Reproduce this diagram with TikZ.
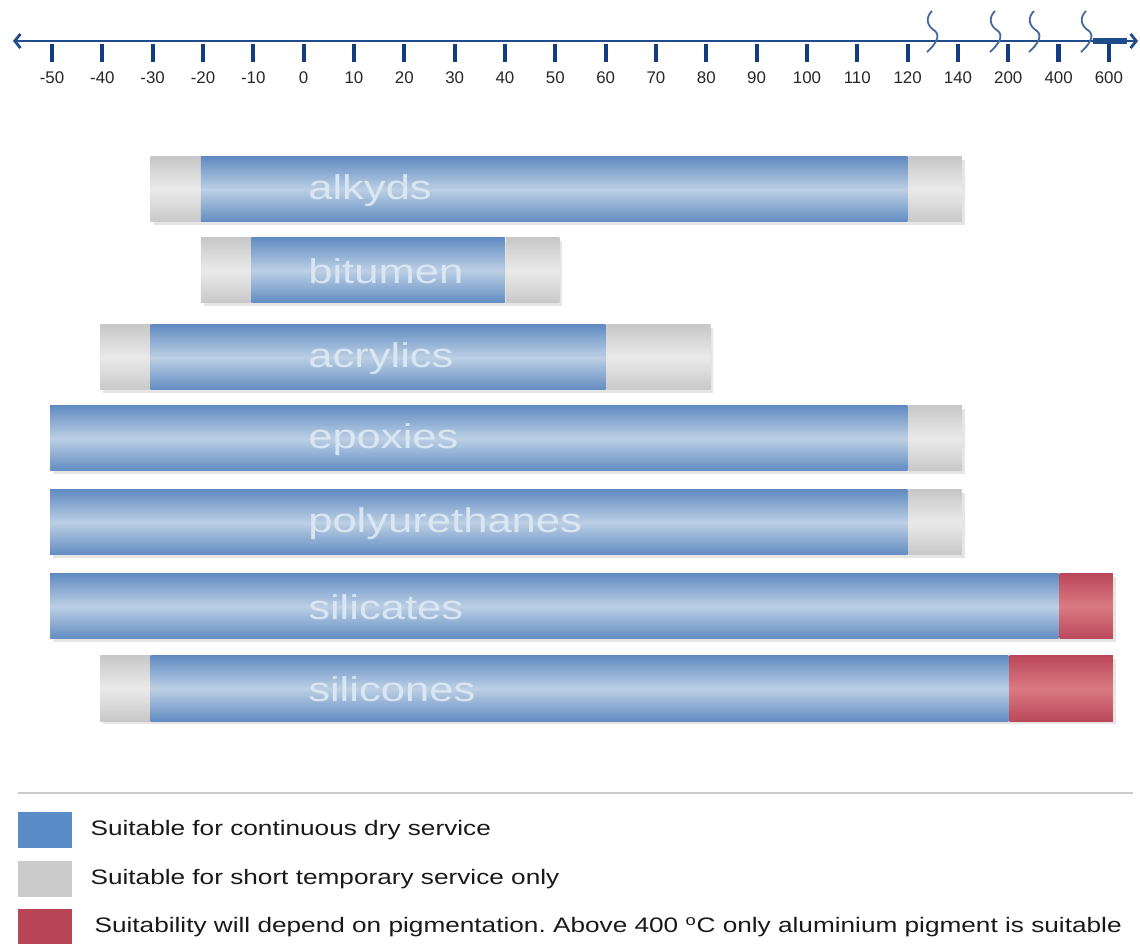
\documentclass[tikz,border=0pt]{standalone}
\usepackage{fontspec}
\setmainfont{Liberation Sans}
\newfontfamily\widefont{Liberation Sans}[FakeStretch=1.25]
\newfontfamily\barfont{Liberation Sans}[FakeStretch=1.27]
\usepackage{tikz}
\usetikzlibrary{arrows.meta,positioning}
\usepackage{xcolor}
\frenchspacing

\definecolor{axisblue}{RGB}{33,76,140}
\definecolor{tickblue}{RGB}{20,60,128}
\definecolor{breakblue}{RGB}{70,105,160}
\definecolor{blueedge}{RGB}{98,140,194}
\definecolor{bluemid}{RGB}{188,207,228}
\definecolor{greyedge}{RGB}{200,200,200}
\definecolor{greymid}{RGB}{234,234,234}
\definecolor{rededge}{RGB}{186,72,90}
\definecolor{redmid}{RGB}{218,122,130}
\definecolor{barlabel}{RGB}{222,234,245}
\definecolor{keyblue}{RGB}{92,140,200}
\definecolor{keygrey}{RGB}{203,203,203}
\definecolor{keyred}{RGB}{184,70,87}

% x of the n-th tick on the scale
\newcommand{\tk}[1]{52+50.33*#1}

\begin{document}
\begin{tikzpicture}[x=0.025cm, y=-0.025cm,
        tick/.style={tickblue, line width=3pt},
        ticklabel/.style={text=black!85, font=\fontsize{12}{14}\selectfont, inner sep=0pt},
        breakmark/.style={breakblue, line width=1.3pt},
        blueseg/.style={top color=blueedge, bottom color=blueedge, middle color=bluemid},
        greyseg/.style={top color=greyedge, bottom color=greyedge, middle color=greymid},
        redseg/.style={top color=rededge, bottom color=rededge, middle color=redmid},
        barname/.style={anchor=west, text=barlabel, text opacity=0.9, inner sep=0pt,
                        font=\barfont\fontsize{24.4}{29}\selectfont},
        key/.style={minimum width=1.35cm, minimum height=0.88cm, inner sep=0pt},
        keytext/.style={anchor=west, inner sep=0pt, text=black!90,
                        font=\widefont\fontsize{14.9}{18}\selectfont}]
    \useasboundingbox (0,0) rectangle (1140,944);

    % temperature scale
    \draw[axisblue, line width=2pt, {Straight Barb[length=4pt,width=10pt]}-{Straight Barb[length=4pt,width=10pt]}]
        (13,41) -- (1138,41);
    \draw[axisblue, line width=4.5pt] (1093,41) -- (1127,41);
    \foreach \v [count=\i from 0] in {-50,-40,-30,-20,-10,0,10,20,30,40,50,60,70,80,90,100,110,120,140,200,400,600} {
            \draw[tick] ({\tk{\i}},44) -- ({\tk{\i}},62);
            \node[ticklabel] (t\i) at ({\tk{\i}},78) {\v};
        }
    % breaks in the scale
    \foreach \c in {933,996,1035,1087} {
            \draw[breakmark] (\c-1,11) .. controls (\c-8,18) and (\c-6,26) .. (\c+2,31)
                .. controls (\c+8,36) and (\c+2,45) .. (\c-6,52);
        }

    % one bar per coating: grey from a to b, blue from b to c, grey/red from c to d
    \foreach \name/\y/\a/\b/\c/\d/\r in {alkyds/157/2/3/17/18/0,
            bitumen/238/3/4/9/10/0,
            acrylics/325/1/2/11/13/0,
            epoxies/406/0/0/17/18/0,
            polyurethanes/490/0/0/17/18/0,
            silicates/574/0/0/20/21/1,
            silicones/656/1/2/19/21/1} {
            \fill[black, opacity=0.10] ({\tk{\a}+1},\y+3) rectangle ({\tk{\d}+7},\y+68);
            \ifnum\a<\b
                \shade[greyseg] ({\tk{\a}-2},\y) rectangle ({\tk{\b}-2},\y+65);
            \fi
            \shade[blueseg] ({\tk{\b}-2},\y) rectangle ({\tk{\c}},\y+65);
            \ifnum\r=1
                \shade[redseg] ({\tk{\c}+1},\y) rectangle ({\tk{\d}+4},\y+65);
            \else
                \shade[greyseg] ({\tk{\c}+1},\y) rectangle ({\tk{\d}+4},\y+65);
            \fi
            \node[barname] (\name) at (308,\y+33.5) {\name};
        }

    % legend
    \draw[black!20, line width=1.5pt] (18,793) -- (1133,793);
    \node[key, fill=keyblue] (kblue) at (45,830) {};
    \node[key, fill=keygrey] (kgrey) at (45,879) {};
    \node[key, fill=keyred] (kred) at (45,927) {};
    \node[keytext, right=0.45cm of kblue] (tblue) {Suitable for continuous dry service};
    \node[keytext, right=0.45cm of kgrey] (tgrey) {Suitable for short temporary service only};
    \node[keytext, right=0.55cm of kred] (tred) {Suitability will depend on pigmentation. Above 400 \textsuperscript{o}C only aluminium pigment is suitable};
\end{tikzpicture}
\end{document}
